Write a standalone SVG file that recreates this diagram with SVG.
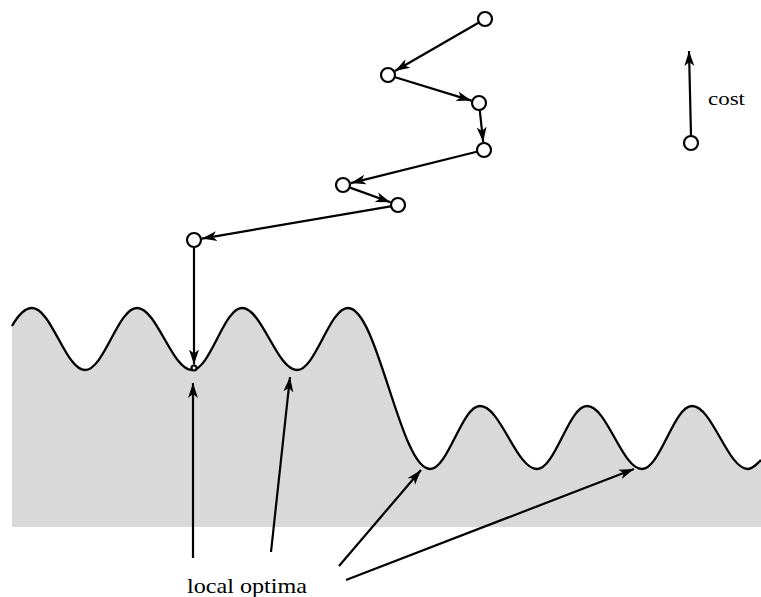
<svg xmlns="http://www.w3.org/2000/svg" width="761" height="597" viewBox="0 0 761 597">
  <style>
    .node { fill: #fff; stroke: #000; stroke-width: 2.2; }
    .edge { fill: none; stroke: #000; stroke-width: 2.2; marker-end: url(#ah); }
    .curve { fill: none; stroke: #000; stroke-width: 2.3; stroke-linejoin: round; }
    .land { fill: #d9d9d9; stroke: none; }
    .lbl { font-family: "Liberation Serif", "Times New Roman", serif; fill: #000; }
  </style>
  <defs>
    <marker id="ah" markerUnits="userSpaceOnUse" markerWidth="16" markerHeight="12" refX="15" refY="6" orient="auto">
      <path d="M0,1 L15,6 L0,11 L4,6 Z" fill="#000"/>
    </marker>
  </defs>

  <g id="landscape">
    <path class="land" d="M12,326 C16,319 24,308 32,308 C51.3,308 65.7,370 85,370 C103.9,370 118.1,308 137,308 C157,308 172,370 192,370 C210.2,370 223.8,308 242,308 C262,308 277,370 297,370 C315.6,370 329.4,308 348,308 C377.8,308 400.2,469 430,469 C448.2,469 461.8,406 480,406 C500.7,406 516.3,469 537,469 C555.2,469 568.8,406 587,406 C607,406 622,469 642,469 C660.2,469 673.8,406 692,406 C712.4,406 727.6,469 748,469 C752.7,469 757,464 761,460 L761,527 L12,527 Z"/>
    <path class="curve" d="M12,326 C16,319 24,308 32,308 C51.3,308 65.7,370 85,370 C103.9,370 118.1,308 137,308 C157,308 172,370 192,370 C210.2,370 223.8,308 242,308 C262,308 277,370 297,370 C315.6,370 329.4,308 348,308 C377.8,308 400.2,469 430,469 C448.2,469 461.8,406 480,406 C500.7,406 516.3,469 537,469 C555.2,469 568.8,406 587,406 C607,406 622,469 642,469 C660.2,469 673.8,406 692,406 C712.4,406 727.6,469 748,469 C752.7,469 757,464 761,460"/>
  </g>

  <g id="connectors">
    <line class="edge" x1="478.5" y1="22.8" x2="394.9" y2="71"/>
    <line class="edge" x1="395.2" y1="77.2" x2="471.4" y2="100.6"/>
    <line class="edge" x1="479.8" y1="110.5" x2="483.2" y2="142"/>
    <line class="edge" x1="476.7" y1="151.8" x2="350.8" y2="183.1"/>
    <line class="edge" x1="350" y1="187.6" x2="390.5" y2="202.3"/>
    <line class="edge" x1="390.6" y1="206.3" x2="201.9" y2="238.6"/>
    <line class="edge" x1="194" y1="247.5" x2="194" y2="364.5"/>
    <line class="edge" x1="691" y1="135.5" x2="689" y2="51"/>
    <line class="edge" x1="193" y1="558" x2="193" y2="383"/>
    <line class="edge" x1="271" y1="552" x2="290" y2="377"/>
    <line class="edge" x1="339" y1="566" x2="421" y2="470"/>
    <line class="edge" x1="346" y1="580" x2="634" y2="469"/>
  </g>

  <g id="n1"><circle class="node" cx="485" cy="19" r="7"/></g>
  <g id="n2"><circle class="node" cx="388" cy="75" r="7"/></g>
  <g id="n3"><circle class="node" cx="479" cy="103" r="7"/></g>
  <g id="n4"><circle class="node" cx="484" cy="150" r="7"/></g>
  <g id="n5"><circle class="node" cx="343" cy="185" r="7"/></g>
  <g id="n6"><circle class="node" cx="398" cy="205" r="7"/></g>
  <g id="n7"><circle class="node" cx="194" cy="240" r="7"/></g>
  <g id="n8"><circle class="node" cx="194" cy="368" r="2.5" stroke-width="1.5"/></g>
  <g id="cost-node"><circle class="node" cx="691" cy="143" r="7"/></g>

  <g id="labels">
    <text class="lbl" x="708" y="105" font-size="19" textLength="37" lengthAdjust="spacingAndGlyphs">cost</text>
    <text class="lbl" x="187" y="593" font-size="21" textLength="120" lengthAdjust="spacingAndGlyphs">local optima</text>
  </g>
</svg>
